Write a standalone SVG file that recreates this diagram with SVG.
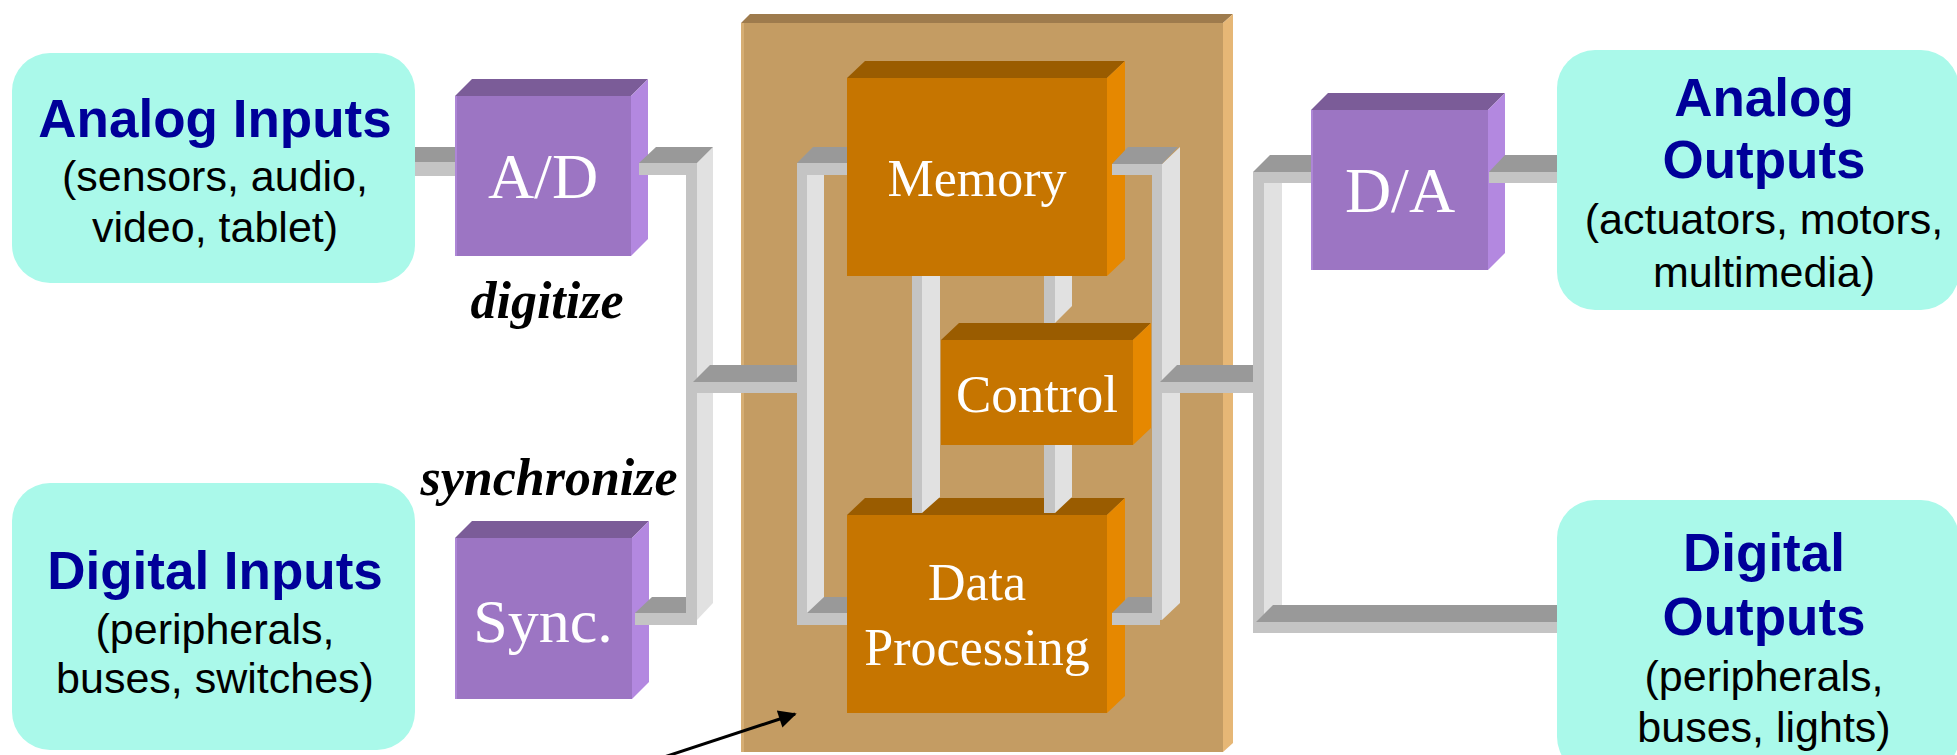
<svg xmlns="http://www.w3.org/2000/svg" width="1957" height="755" viewBox="0 0 1957 755">
<style>
.cy{fill:#aaf9ea}
.ttl{font-family:"Liberation Sans",Arial,sans-serif;font-weight:bold;font-size:53px;fill:#000099;text-anchor:middle}
.sub{font-family:"Liberation Sans",Arial,sans-serif;font-size:43px;fill:#000;text-anchor:middle}
.lbl{font-family:"Liberation Serif","Times New Roman",serif;fill:#fff;text-anchor:middle}
.ital{font-family:"Liberation Serif","Times New Roman",serif;font-style:italic;font-weight:bold;font-size:52px;fill:#000;text-anchor:middle}
.bt{fill:#999999}.bf{fill:#c4c4c4}.bs{fill:#e1e1e1}
.pf{fill:#9c75c3}.pt{fill:#7b5c98}.ps{fill:#b388e0}
.of{fill:#c67500}.ot{fill:#9a5c00}.os{fill:#e68800}
</style>
<defs>
<marker id="ah" viewBox="0 0 10 10" refX="9" refY="5" markerWidth="7" markerHeight="6" orient="auto" markerUnits="strokeWidth">
<path d="M0,0 L10,5 L0,10 z" fill="#000"/>
</marker>
</defs>
<rect width="1957" height="755" fill="#fff"/>

<g id="analog-inputs">
<rect class="cy" x="12" y="53" width="403" height="230" rx="38"/>
<text class="ttl" x="215" y="137">Analog Inputs</text>
<text class="sub" x="215" y="191">(sensors, audio,</text>
<text class="sub" x="215" y="242">video, tablet)</text>
</g>
<g id="digital-inputs">
<rect class="cy" x="12" y="483" width="403" height="267" rx="38"/>
<text class="ttl" x="215" y="589">Digital Inputs</text>
<text class="sub" x="215" y="644">(peripherals,</text>
<text class="sub" x="215" y="693">buses, switches)</text>
</g>
<g id="analog-outputs">
<rect class="cy" x="1557" y="50" width="402" height="260" rx="38"/>
<text class="ttl" x="1764" y="116">Analog</text>
<text class="ttl" x="1764" y="178">Outputs</text>
<text class="sub" x="1764" y="234">(actuators, motors,</text>
<text class="sub" x="1764" y="287">multimedia)</text>
</g>
<g id="digital-outputs">
<rect class="cy" x="1557" y="500" width="402" height="275" rx="38"/>
<text class="ttl" x="1764" y="571">Digital</text>
<text class="ttl" x="1764" y="635">Outputs</text>
<text class="sub" x="1764" y="691">(peripherals,</text>
<text class="sub" x="1764" y="742">buses, lights)</text>
</g>

<g id="processor-board">
<rect x="741" y="23" width="482" height="729" fill="#c49c63"/>
<rect x="741" y="23" width="3" height="729" fill="#d6ae74"/>
<polygon points="741,23 750,14 1233,14 1223,23" fill="#9e7b4d"/>
<polygon points="1223,23 1233,14 1233,743 1223,752" fill="#e6b776"/>
</g>

<g id="ad">
<rect class="pf" x="455" y="96" width="176" height="160"/>
<rect x="455" y="96" width="2" height="160" fill="#ad86d6"/>
<polygon class="pt" points="455,96 472,79 648,79 631,96"/>
<polygon class="ps" points="631,96 648,79 648,239 631,256"/>
<text class="lbl" x="543" y="198" font-size="64">A/D</text>
</g>
<g id="sync">
<rect class="pf" x="455" y="538" width="177" height="161"/>
<rect x="455" y="538" width="2" height="161" fill="#ad86d6"/>
<polygon class="pt" points="455,538 472,521 649,521 632,538"/>
<polygon class="ps" points="632,538 649,521 649,682 632,699"/>
<text class="lbl" x="543" y="642" font-size="62">Sync.</text>
</g>
<g id="da">
<rect class="pf" x="1311" y="110" width="177" height="160"/>
<rect x="1311" y="110" width="2" height="160" fill="#ad86d6"/>
<polygon class="pt" points="1311,110 1328,93 1505,93 1488,110"/>
<polygon class="ps" points="1488,110 1505,93 1505,253 1488,270"/>
<text class="lbl" x="1400" y="212" font-size="64">D/A</text>
</g>

<g id="memory">
<rect class="of" x="847" y="78" width="260" height="198"/>
<polygon class="ot" points="847,78 865,61 1125,61 1107,78"/>
<polygon class="os" points="1107,78 1125,61 1125,259 1107,276"/>
<text class="lbl" x="977" y="196" font-size="52">Memory</text>
</g>
<g id="control">
<rect class="of" x="941" y="340" width="192" height="105"/>
<polygon class="ot" points="941,340 959,323 1151,323 1133,340"/>
<polygon class="os" points="1133,340 1151,323 1151,428 1133,445"/>
<text class="lbl" x="1037" y="412" font-size="53">Control</text>
</g>
<g id="data-processing">
<rect class="of" x="847" y="515" width="260" height="198"/>
<polygon class="ot" points="847,515 865,498 1125,498 1107,515"/>
<polygon class="os" points="1107,515 1125,498 1125,696 1107,713"/>
<text class="lbl" x="977" y="600" font-size="52">Data</text>
<text class="lbl" x="977" y="665" font-size="52">Processing</text>
</g>

<g id="connectors">
<rect class="bt" x="415" y="147" width="40" height="15"/>
<rect class="bf" x="415" y="162" width="40" height="14"/>
<rect class="bf" x="686" y="163" width="11" height="457"/>
<polygon class="bs" points="697,163 713,147 713,603 697,620"/>
<polygon class="bt" points="639,163 697,163 713,147 656,147"/>
<rect class="bf" x="639" y="163" width="58" height="12"/>
<polygon class="bt" points="635,613 686,613 686,597 652,597"/>
<rect class="bf" x="635" y="613" width="62" height="12"/>
<polygon class="bt" points="693,382 797,382 797,365 710,365"/>
<rect class="bf" x="693" y="382" width="104" height="11"/>
<rect class="bf" x="797" y="163" width="10" height="457"/>
<polygon class="bs" points="807,163 824,147 824,603 807,620"/>
<polygon class="bt" points="797,163 847,163 847,147 813,147"/>
<rect class="bf" x="797" y="163" width="50" height="12"/>
<polygon class="bt" points="807,613 847,613 847,597 824,597"/>
<rect class="bf" x="797" y="613" width="50" height="12"/>
<rect class="bf" x="912" y="276" width="10" height="237"/>
<polygon class="bs" points="922,276 940,276 940,497 922,513"/>
<rect class="bf" x="1044" y="276" width="11" height="47"/>
<polygon class="bs" points="1055,276 1072,276 1072,306 1055,323"/>
<rect class="bf" x="1044" y="445" width="11" height="68"/>
<polygon class="bs" points="1055,445 1072,445 1072,497 1055,513"/>
<rect class="bf" x="1152" y="164" width="10" height="456"/>
<polygon class="bs" points="1162,164 1180,147 1180,603 1162,620"/>
<polygon class="bt" points="1112,164 1162,164 1178,147 1128,147"/>
<rect class="bf" x="1112" y="164" width="50" height="11"/>
<polygon class="bt" points="1112,613 1152,613 1152,597 1128,597"/>
<rect class="bf" x="1112" y="613" width="48" height="12"/>
<polygon class="bt" points="1160,382 1253,382 1253,365 1177,365"/>
<rect class="bf" x="1160" y="382" width="93" height="11"/>
<rect class="bf" x="1253" y="172" width="11" height="461"/>
<polygon class="bs" points="1264,172 1282,155 1282,616 1264,633"/>
<polygon class="bt" points="1253,172 1311,172 1311,155 1270,155"/>
<rect class="bf" x="1253" y="172" width="58" height="11"/>
<polygon class="bt" points="1489,172 1557,172 1557,155 1505,155"/>
<rect class="bf" x="1489" y="172" width="68" height="11"/>
<polygon class="bt" points="1256,622 1557,622 1557,605 1273,605"/>
<rect class="bf" x="1254" y="622" width="303" height="11"/>
<line x1="655" y1="760" x2="795" y2="714" stroke="#000" stroke-width="3" marker-end="url(#ah)"/>
</g>

<text class="ital" x="547" y="318">digitize</text>
<text class="ital" x="549" y="495">synchronize</text>
</svg>
